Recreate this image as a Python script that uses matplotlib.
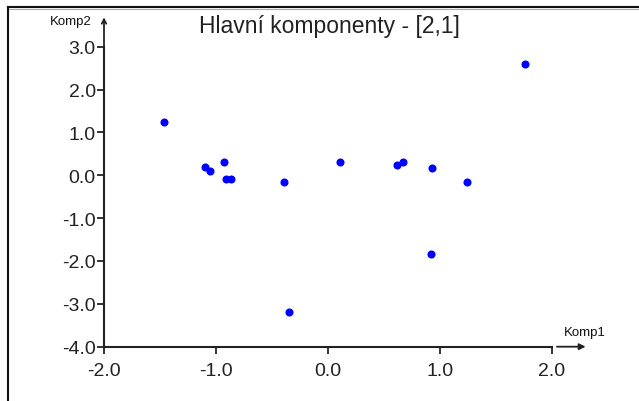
import matplotlib.pyplot as plt
from matplotlib.lines import Line2D

plt.rcParams['font.family'] = ['Liberation Sans', 'DejaVu Sans']
plt.rcParams['axes.unicode_minus'] = False

# component scores
komp1 = [-1.46, -1.10, -1.05, -0.93, -0.91, -0.87, -0.39, -0.35, 0.11,
         0.62, 0.67, 0.93, 0.92, 1.24, 1.76]
komp2 = [1.24, 0.20, 0.10, 0.30, -0.08, -0.08, -0.15, -3.19, 0.31,
         0.23, 0.30, 0.16, -1.83, -0.15, 2.59]
x_ticks = [-2.0, -1.0, 0.0, 1.0, 2.0]
y_ticks = [-4.0, -3.0, -2.0, -1.0, 0.0, 1.0, 2.0, 3.0]

W, H = 639, 402
fig = plt.figure(figsize=(W / 100, H / 100), dpi=100)
ax = fig.add_axes([104 / W, 1 - 347.7 / H, 448 / W, 300 / H])

ax.plot(komp1, komp2, 'o', color='#0000ff', ms=4.8, mec='#0000ff', clip_on=False)

ax.set_xlim(-2, 2)
ax.set_ylim(-4, 3)
ax.set_xticks(x_ticks)
ax.set_yticks(y_ticks)
ax.set_xticklabels(['%.1f' % v for v in x_ticks])
ax.set_yticklabels(['%.1f' % v for v in y_ticks])
ax.tick_params(direction='out', length=5, width=1.3, color='#222222',
               labelsize=14, labelcolor='#222222')
ax.tick_params(axis='x', pad=6)
ax.tick_params(axis='y', pad=1)
for s in ['top', 'right']:
    ax.spines[s].set_visible(False)
for s in ['left', 'bottom']:
    ax.spines[s].set_linewidth(1.5)
    ax.spines[s].set_color('#222222')

# axis arrows
ax.annotate('', xy=(0, 1.098), xytext=(0, 1.0), xycoords='axes fraction',
            arrowprops=dict(arrowstyle='->', color='#222222', lw=1.3,
                            shrinkA=0, shrinkB=0, mutation_scale=8))
ax.annotate('', xy=(1.075, 0), xytext=(1.011, 0), xycoords='axes fraction',
            arrowprops=dict(arrowstyle='-|>', color='#222222', lw=1.3,
                            shrinkA=0, shrinkB=0, mutation_scale=9))
fig.text(71 / W, 1 - 22 / H, 'Komp2', ha='center', va='center', fontsize=9.5,
         color='#111111')
fig.text(585 / W, 1 - 333 / H, 'Komp1', ha='center', va='center', fontsize=9.5,
         color='#111111')

fig.text(329 / W, 1 - 26 / H, 'Hlavní komponenty - [2,1]', ha='center',
         va='center', fontsize=16.5, color='#222222')

# window frame
fig.add_artist(Line2D([8 / W, 1], [1 - 7.5 / H, 1 - 7.5 / H], color='#111111', lw=1.5))
fig.add_artist(Line2D([8 / W, 1], [1 - 9.5 / H, 1 - 9.5 / H], color='#aaaaaa', lw=0.8))
fig.add_artist(Line2D([8 / W, 8 / W], [0, 1 - 7.5 / H], color='#111111', lw=1.5))

fig.savefig('out.png', dpi=100)
